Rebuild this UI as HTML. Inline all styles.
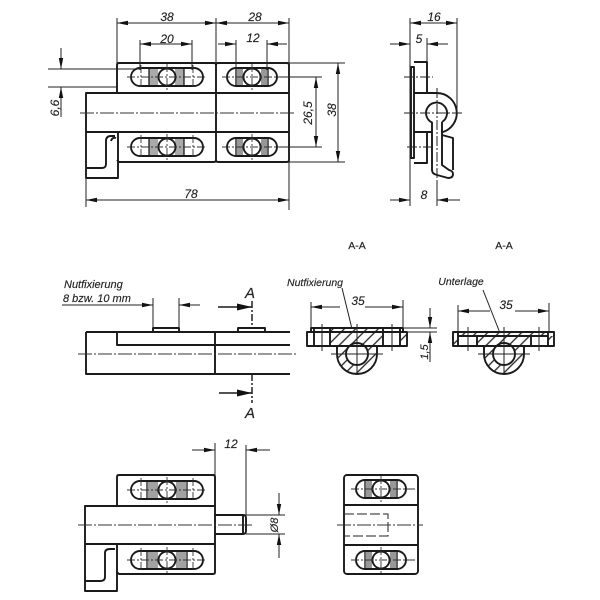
<!DOCTYPE html>
<html><head><meta charset="utf-8"><style>
html,body{margin:0;padding:0;background:#fff;width:600px;height:600px;overflow:hidden}
svg{display:block;filter:blur(.3px)}
text{font-family:"Liberation Sans",sans-serif;font-style:italic;font-size:12px;fill:#222;stroke:#222;stroke-width:.15;text-anchor:middle}
.t{fill:none;stroke:#1a1a1a;stroke-width:1.9;stroke-linejoin:round}
.d{fill:none;stroke:#222;stroke-width:1}
.c{fill:none;stroke:#333;stroke-width:1;stroke-dasharray:14 2 2 2}
</style></head><body>
<svg width="600" height="600" viewBox="0 0 600 600" xmlns="http://www.w3.org/2000/svg">
<defs>
<marker id="a" markerUnits="userSpaceOnUse" markerWidth="12" markerHeight="6" refX="11" refY="3" orient="auto"><path d="M0 .8L11 3L0 5.200Z" fill="#111"/></marker>
<marker id="b" markerUnits="userSpaceOnUse" markerWidth="16" markerHeight="8" refX="15" refY="4" orient="auto"><path d="M0 .5L15 4L0 7.500Z" fill="#111"/></marker>
<g id="L">
<rect x="-18" y="-8" width="9" height="16" fill="#aaa"/><rect x="8" y="-8" width="9" height="16" fill="#aaa"/>
<rect x="-36" y="-9" width="72" height="18" rx="9" fill="none" stroke="#1a1a1a" stroke-width="1.900"/>
<path d="M-18-9V9M17-9V9" fill="none" stroke="#1a1a1a" stroke-width="1.300"/>
<circle r="8.500" fill="#fff" stroke="#1a1a1a" stroke-width="1.900"/>
<path d="M-40 0H40M0-13V13M-26-12V12M26-12V12" fill="none" stroke="#333" stroke-width=".9" stroke-dasharray="8 2 2 2"/>
</g>
<g id="H">
<path d="M-20-8V8M-18-8V8M-16-8V8M-14-8V8M-12-8V8M-10-8V8M10-8V8M12-8V8M14-8V8M16-8V8M18-8V8M20-8V8" stroke="#444" stroke-width="1"/>
<rect x="-36" y="-9" width="72" height="18" rx="9" fill="none" stroke="#1a1a1a" stroke-width="1.900"/>
<path d="M-20-9V9M20-9V9" fill="none" stroke="#1a1a1a" stroke-width="1.300"/>
<circle r="8.500" fill="#fff" stroke="#1a1a1a" stroke-width="1.900"/>
<path d="M-40 0H40M0-13V13M-26-12V12M26-12V12" fill="none" stroke="#333" stroke-width=".9" stroke-dasharray="8 2 2 2"/>
</g>
<g id="S">
<path d="M-16-8V8M-14-8V8M-12-8V8M-10-8V8M10-8V8M12-8V8M14-8V8M16-8V8" stroke="#444" stroke-width="1.100"/>
<rect x="-25" y="-9" width="50" height="18" rx="9" fill="none" stroke="#1a1a1a" stroke-width="1.900"/>
<path d="M-16-9V9M16-9V9" fill="none" stroke="#1a1a1a" stroke-width="1.300"/>
<circle r="8.500" fill="#fff" stroke="#1a1a1a" stroke-width="1.900"/>
<path d="M-30 0H34M0-13V13" fill="none" stroke="#333" stroke-width=".9" stroke-dasharray="8 2 2 2"/>
</g>
<pattern id="hh" width="8" height="8" patternUnits="userSpaceOnUse" patternTransform="rotate(45)"><path d="M4 0V8" stroke="#222" stroke-width="1.300"/></pattern>
</defs>

<!-- Top left view -->
<path class="t" d="M117 93V65Q117 63 119 63H214Q216 63 216 65M216 65Q216 63 218 63H287Q289 63 289 65V160Q289 162 287 162H218Q216 162 216 160M216 160Q216 162 214 162H119L117 160"/>
<path class="t" d="M216 65V93M216 132V160"/>
<path class="t" d="M289 93H86V132H289M216 93V132M86 132V178H118V132"/>
<path class="t" d="M86 168H102Q106 168 106 164V141Q106 136 111 136H115" stroke-width="1.500"/>
<path class="t" d="M111 141Q112 137 116 138" stroke-width="1"/>
<path class="c" d="M80 113H295"/>
<use href="#L" x="167" y="77"/><use href="#L" x="167" y="147"/>
<use href="#S" x="252" y="77"/><use href="#S" x="252" y="147"/>
<path class="d" d="M117 18V63M216 18V63M289 18V210M86 132V207M140 40V70M192 40V70M236 40V70M267 40V70M48 69H140M48 87H117M250 63H345M289 162H345M280 77H322M280 147H322"/>
<path class="d" marker-end="url(#a)" d="M166 23H117"/><path class="d" marker-end="url(#a)" d="M166 23H216"/>
<path class="d" marker-end="url(#a)" d="M252 23H216"/><path class="d" marker-end="url(#a)" d="M252 23H289"/>
<path class="d" marker-end="url(#a)" d="M166 44H140"/><path class="d" marker-end="url(#a)" d="M166 44H192"/>
<path class="d" marker-end="url(#a)" d="M218 44H236"/><path class="d" marker-end="url(#a)" d="M287 44H267"/>
<path class="d" marker-end="url(#a)" d="M61 48V69"/><path class="d" marker-end="url(#a)" d="M61 117V87"/>
<path class="d" marker-end="url(#a)" d="M316 112V77"/><path class="d" marker-end="url(#a)" d="M316 112V147"/>
<path class="d" marker-end="url(#a)" d="M338 112V63"/><path class="d" marker-end="url(#a)" d="M338 112V162"/>
<path class="d" marker-end="url(#a)" d="M188 200H86"/><path class="d" marker-end="url(#a)" d="M188 200H289"/>
<text x="167" y="21">38</text><text x="255" y="21">28</text><text x="167" y="43">20</text><text x="253" y="42">12</text><text x="191" y="198">78</text>
<text transform="translate(59 108) rotate(-90)">6,6</text>
<text transform="translate(312 113) rotate(-90)">26,5</text>
<text transform="translate(336 110) rotate(-90)">38</text>

<!-- Top right view -->
<path class="t" d="M411 67H414V158H411ZM414 62H427V93M427 132V163H414M414 93H437A20 20 0 0 1 442 132.300M414 132H432"/>
<path class="t" d="M442 122A10.500 10.500 0 1 0 432 122.500V170Q432 174 437 175L448 178Q453 178 453 174Q453 171 449 170L442 165V122M442 135L453 138V170"/>
<path class="d" stroke-dasharray="10 2 2 2" d="M404 77H433M404 113H462M407 147H433M437 88V180"/>
<path class="d" d="M410 18V206M427 38V62M457 18V113M437 180V206"/>
<path class="d" marker-end="url(#a)" d="M434 23H410"/><path class="d" marker-end="url(#a)" d="M434 23H457"/>
<path class="d" marker-end="url(#a)" d="M390 44H410"/><path class="d" marker-end="url(#a)" d="M448 44H427"/>
<path class="d" marker-end="url(#a)" d="M390 200H410"/><path class="d" marker-end="url(#a)" d="M460 200H437"/>
<text x="434" y="21">16</text><text x="419" y="43">5</text><text x="424" y="199">8</text>

<!-- Middle left -->
<path class="t" d="M86 332V374H215V332M86 332H290M117 332V345H290M215 374H290M153 332V328H179V332M238 332V328H265V332"/>
<path class="c" d="M78 354H296"/>
<path class="d" d="M153 298V328M179 298V328M62 305H142"/>
<path class="d" marker-end="url(#a)" d="M141 305H153"/><path class="d" marker-end="url(#a)" d="M200 305H179"/>
<path d="M252 301V328M252 374V403" fill="none" stroke="#222" stroke-width="1.500" stroke-dasharray="7 2 2 2"/>
<path fill="none" stroke="#1a1a1a" stroke-width="1.500" marker-end="url(#b)" d="M218 307H252"/>
<path fill="none" stroke="#1a1a1a" stroke-width="1.500" marker-end="url(#b)" d="M219 393H252"/>
<text x="64" y="288" style="text-anchor:start;font-size:11px">Nutfixierung</text>
<text x="63" y="302" style="text-anchor:start;font-size:11px">8 bzw. 10 mm</text>
<text x="250" y="298" style="font-size:15px">A</text><text x="250" y="418" style="font-size:15px">A</text>

<!-- Section 1 -->
<text x="357" y="249" style="font-style:normal;font-size:10.500px">A-A</text>
<text x="504" y="249" style="font-style:normal;font-size:10.500px">A-A</text>
<path fill="url(#hh)" d="M330 328H383V346H377V354A20 20 0 0 1 337 354V346H330Z"/>
<path fill="url(#hh)" d="M400 332H407V346H400Z"/>
<circle cx="357" cy="354" r="11" fill="#fff" stroke="#1a1a1a" stroke-width="1.900"/>
<path class="t" d="M307 332H407V346H307ZM311 332V328H403V332"/>
<path class="t" d="M337 346V354A20 20 0 0 0 377 354V346"/>
<path class="t" d="M314 328V346M330 328V346M383 328V346M400 328V346"/>
<path class="d" d="M322 324V351M392 324V351M357 324V374M331 354H383M357 346V362M349 354H365"/>
<path class="d" d="M311 302V328M403 300V328M404 328H437M404 332H437M342 288L352 329"/>
<path class="d" marker-end="url(#a)" d="M340 307H311"/><path class="d" marker-end="url(#a)" d="M365 307H403"/>
<path class="d" marker-end="url(#a)" d="M430 308V328"/><path class="d" marker-end="url(#a)" d="M430 362V332"/>
<text x="358" y="305">35</text>
<text x="315" y="286" style="font-size:10.500px">Nutfixierung</text>
<text transform="translate(428 352) rotate(-90)" style="font-size:11px">1,5</text>

<!-- Section 2 -->
<path fill="url(#hh)" d="M477 336H531V346H524V354A20 20 0 0 1 484 354V346H477Z"/>
<path fill="url(#hh)" d="M453 332H458V346H453ZM548 336H554V346H548Z"/>
<path fill="url(#hh)" d="M458 333H548V336H458Z"/>
<circle cx="504" cy="354" r="11" fill="#fff" stroke="#1a1a1a" stroke-width="1.900"/>
<path class="t" d="M453 332H554V346H453ZM458 332V336H548V332M458 336V346M477 336V346M531 336V346M548 336V346"/>
<path class="t" d="M484 346V354A20 20 0 0 0 524 354V346"/>
<path class="d" d="M468 327V351M539 327V351M504 327V374M478 354H530M504 346V362M496 354H512"/>
<path class="d" d="M458 305V332M549 303V332M483 290L500 333"/>
<path class="d" marker-end="url(#a)" d="M490 311H458"/><path class="d" marker-end="url(#a)" d="M515 311H549"/>
<text x="506" y="309">35</text>
<text x="461" y="285" style="font-size:10.500px">Unterlage</text>

<!-- Bottom left -->
<path class="t" d="M117 506V477Q117 475 119 475H213Q215 475 215 477V572Q215 574 213 574H119L117 572"/>
<path class="t" d="M215 506H85V544H215M85 544V591H117V544M215 515H243Q246 515 246 518V531Q246 534 243 534H215M243 515V534"/>
<path class="t" d="M85 581H100Q105 581 105 577V553Q105 549 110 549H115" stroke-width="1.500"/>
<path class="c" d="M78 525H254"/>
<use href="#H" x="167" y="490"/><use href="#H" x="167" y="560"/>
<path class="d" d="M215 443V475M246 445V515M246 534H285M246 515H285"/>
<path class="d" marker-end="url(#a)" d="M192 450H215"/><path class="d" marker-end="url(#a)" d="M270 450H246"/>
<path class="d" marker-end="url(#a)" d="M279 493V515"/><path class="d" marker-end="url(#a)" d="M279 558V534"/>
<text x="231" y="448">12</text>
<text transform="translate(278 525) rotate(-90)" style="font-size:11px">Ø8</text>

<!-- Bottom right -->
<rect class="t" x="344" y="475" width="74" height="99" rx="3"/>
<path class="t" d="M344 505H418M344 545H418"/>
<path class="d" stroke-dasharray="10 3" d="M344 514H388V536H344"/>
<path class="c" d="M337 525H423"/>
<use href="#S" x="381" y="489"/><use href="#S" x="381" y="560"/>
</svg>
</body></html>
